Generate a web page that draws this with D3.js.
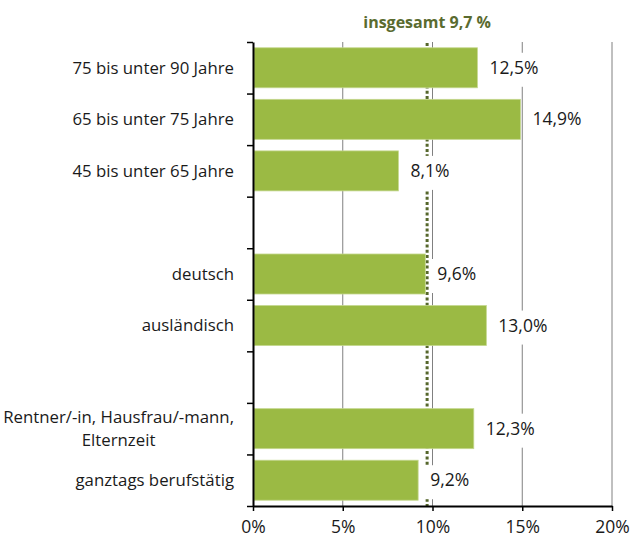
<!DOCTYPE html>
<html>
<head>
<meta charset="utf-8">
<script src="https://cdn.jsdelivr.net/npm/d3@7"></script>
<style>
  html, body { margin: 0; padding: 0; background: #fff; }
  svg { display: block; font-family: "Open Sans", sans-serif; }
</style>
</head>
<body>
<svg id="chart" width="632" height="539"></svg>
<script>
// Row labels (empty strings are spacer rows between groups)
const categories = [
  "75 bis unter 90 Jahre",
  "65 bis unter 75 Jahre",
  "45 bis unter 65 Jahre",
  "",
  "deutsch",
  "ausländisch",
  "",
  "Rentner/-in, Hausfrau/-mann,\nElternzeit",
  "ganztags berufstätig"
];
// Share in percent per row (null = spacer row)
const values = [12.5, 14.9, 8.1, null, 9.6, 13.0, null, 12.3, 9.2];
// Overall reference value
const totalValue = 9.7;
const totalLabel = "insgesamt 9,7 %";
// X axis ticks
const xTicks = [0, 5, 10, 15, 20];

const fmt = v => v.toFixed(1).replace(".", ",") + "%";

const svg = d3.select("#chart");
const plotLeft = 253, plotRight = 612, plotTop = 42, plotBottom = 506;

const x = d3.scaleLinear().domain([0, 20]).range([plotLeft, plotRight]);
const y = d3.scaleBand().domain(d3.range(categories.length))
  .range([plotTop, plotBottom]).paddingInner(0.224).paddingOuter(0.112);
// Row boundaries for the y axis ticks
const yBound = d3.scaleLinear().domain([0, categories.length]).range([plotTop, plotBottom]);

// Vertical gridlines
svg.append("g").selectAll("line")
  .data(xTicks.filter(d => d > 0))
  .join("line")
  .attr("x1", d => x(d)).attr("x2", d => x(d))
  .attr("y1", plotTop).attr("y2", plotBottom)
  .attr("stroke", "#808080").attr("stroke-width", 1);

// Overall value marker
svg.append("line")
  .attr("x1", x(totalValue)).attr("x2", x(totalValue))
  .attr("y1", plotTop + 1).attr("y2", plotBottom)
  .attr("stroke", "#56672c").attr("stroke-width", 3)
  .attr("stroke-dasharray", "3,2.3");

svg.append("text")
  .attr("x", x(totalValue)).attr("y", 28)
  .attr("text-anchor", "middle")
  .attr("font-size", "16px").attr("font-weight", "bold")
  .attr("fill", "#5a6b2f")
  .text(totalLabel);

const rows = values.map((v, i) => ({ i, v, label: categories[i] }));
const barRows = rows.filter(d => d.v !== null);

// Bars
svg.append("g").selectAll("rect")
  .data(barRows)
  .join("rect")
  .attr("x", x(0) + 1)
  .attr("y", d => y(d.i))
  .attr("width", d => x(d.v) - x(0) - 1)
  .attr("height", y.bandwidth())
  .attr("fill", "#9bba44")
  .attr("stroke", "#c4d78e").attr("stroke-width", 0.8);

// Value labels on white boxes
const lab = svg.append("g").selectAll("g")
  .data(barRows)
  .join("g");
lab.append("rect").attr("class", "bg");
lab.append("text")
  .attr("x", d => x(d.v) + 12)
  .attr("y", d => y(d.i) + y.bandwidth() / 2)
  .attr("dy", "0.35em")
  .attr("font-size", "17.5px")
  .attr("fill", "#1a1a1a")
  .text(d => fmt(d.v));
lab.each(function (d) {
  const g = d3.select(this);
  const w = g.select("text").node().getComputedTextLength();
  const cy = y(d.i) + y.bandwidth() / 2;
  g.select("rect.bg")
    .attr("x", x(d.v) + 4).attr("y", cy - 15)
    .attr("width", w + 14).attr("height", 34)
    .attr("fill", "#fff");
});

// Category labels
const cat = svg.append("g").selectAll("text")
  .data(rows.filter(d => d.label))
  .join("text")
  .attr("font-size", "16.8px")
  .attr("fill", "#1a1a1a");
cat.each(function (d) {
  const t = d3.select(this);
  const lines = d.label.split("\n");
  const cy = y(d.i) + y.bandwidth() / 2;
  const lh = 23;
  const spans = lines.map((ln, k) => t.append("tspan")
    .attr("y", cy + (k - (lines.length - 1) / 2) * lh)
    .attr("dy", "0.35em")
    .text(ln));
  const widths = spans.map(s => s.node().getComputedTextLength());
  const maxW = d3.max(widths);
  const cx = 234 - maxW / 2;
  spans.forEach(s => s.attr("x", cx).attr("text-anchor", "middle"));
});

// Y axis with ticks at row boundaries
const yAxis = svg.append("g")
  .attr("transform", `translate(${plotLeft},0)`)
  .call(d3.axisLeft(yBound).tickValues(d3.range(categories.length + 1))
    .tickSize(6).tickSizeOuter(0).tickFormat(""));
yAxis.select(".domain").attr("stroke", "#000").attr("stroke-width", 2);
yAxis.selectAll(".tick line").attr("stroke", "#000").attr("stroke-width", 1.5);

// X axis
const xAxis = svg.append("g")
  .attr("transform", `translate(0,${plotBottom})`)
  .call(d3.axisBottom(x).tickValues(xTicks).tickSize(5).tickSizeOuter(0)
    .tickFormat(d => d + "%"));
xAxis.select(".domain").attr("stroke", "#000").attr("stroke-width", 2);
xAxis.selectAll(".tick line").attr("stroke", "#000").attr("stroke-width", 1.5);
xAxis.selectAll(".tick text")
  .attr("font-family", "Open Sans, sans-serif")
  .attr("font-size", "17.5px").attr("fill", "#1a1a1a")
  .attr("y", 15).attr("dy", "0.71em");
</script>
</body>
</html>
